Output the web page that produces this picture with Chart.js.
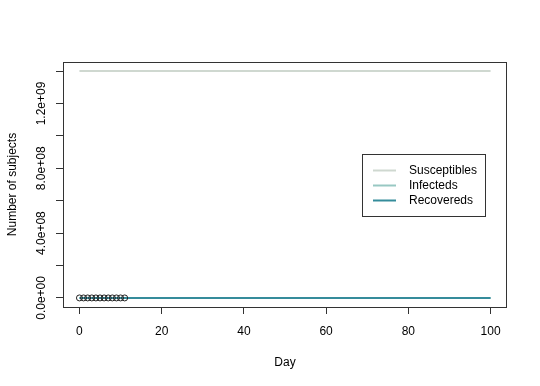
<!DOCTYPE html>
<html><head><meta charset="utf-8">
<script src="https://cdn.jsdelivr.net/npm/chart.js@4.4.0/dist/chart.umd.min.js"></script>
<style>html,body{margin:0;padding:0;background:#fff;}</style>
</head><body>
<canvas id="c" width="540" height="386"></canvas>
<script>
// ---- data ----
const days = [0, 10, 20, 30, 40, 50, 60, 70, 80, 90, 100];
const susceptibles = [1.4e9, 1.4e9, 1.4e9, 1.4e9, 1.4e9, 1.4e9, 1.4e9, 1.4e9, 1.4e9, 1.4e9, 1.4e9];
const infecteds = [0, 0, 0, 0, 0, 0, 0, 0, 0, 0, 0];
const recovereds = [0, 0, 0, 0, 0, 0, 0, 0, 0, 0, 0];
const obsDays = [0, 1, 2, 3, 4, 5, 6, 7, 8, 9, 10, 11];
const observed = [0, 0, 0, 0, 0, 0, 0, 0, 0, 0, 0, 0];
const xTickValues = [0, 20, 40, 60, 80, 100];
const xTickLabels = ["0", "20", "40", "60", "80", "100"];
const yTickValues = [0, 2e8, 4e8, 6e8, 8e8, 1e9, 1.2e9, 1.4e9];
const yTickLabels = ["0.0e+00", "", "4.0e+08", "", "8.0e+08", "", "1.2e+09", ""];
const seriesNames = ["Susceptibles", "Infecteds", "Recovereds"];
const seriesColors = ["#cfd8d0", "#98c8c3", "#358c9b"];

const FONT = {family: "'Liberation Sans', Arial, sans-serif", size: 12};
const pts = (xs, ys) => xs.map((x, i) => ({x: x, y: ys[i]}));

const frame = {
  id: 'rframe',
  afterDraw(chart) {
    const ctx = chart.ctx, a = chart.chartArea;
    ctx.save();
    ctx.strokeStyle = '#333';
    ctx.lineWidth = 1;
    ctx.strokeRect(Math.round(a.left) + 0.5, Math.round(a.top) + 0.5,
                   Math.round(a.right - a.left) - 1, Math.round(a.bottom - a.top));
    // legend
    const lx = 362, ly = 154, lw = 123, lh = 62;
    ctx.fillStyle = '#fff';
    ctx.fillRect(lx, ly, lw, lh);
    ctx.strokeRect(lx + 0.5, ly + 0.5, lw, lh);
    ctx.font = "12px 'Liberation Sans', Arial, sans-serif";
    ctx.textBaseline = 'middle';
    ctx.textAlign = 'left';
    seriesNames.forEach((name, i) => {
      const y = 171 + i * 15;
      ctx.strokeStyle = seriesColors[i];
      ctx.lineWidth = 2;
      ctx.beginPath();
      ctx.moveTo(373, y - 0.5);
      ctx.lineTo(396, y - 0.5);
      ctx.stroke();
      ctx.fillStyle = '#000';
      ctx.fillText(name, 409, y);
    });
    ctx.restore();
  }
};

new Chart(document.getElementById('c'), {
  type: 'scatter',
  data: {
    datasets: [
      {label: 'observed', data: pts(obsDays, observed), showLine: false,
       pointRadius: 3, pointBorderWidth: 1, pointBorderColor: '#222',
       pointBackgroundColor: 'rgba(0,0,0,0)', borderColor: '#222', backgroundColor: 'rgba(0,0,0,0)'},
      {label: seriesNames[2], data: pts(days, recovereds), showLine: true, pointRadius: 0,
       borderColor: seriesColors[2], borderWidth: 2, backgroundColor: seriesColors[2]},
      {label: seriesNames[1], data: pts(days, infecteds), showLine: true, pointRadius: 0,
       borderColor: seriesColors[1], borderWidth: 2, backgroundColor: seriesColors[1]},
      {label: seriesNames[0], data: pts(days, susceptibles), showLine: true, pointRadius: 0,
       borderColor: seriesColors[0], borderWidth: 2, backgroundColor: seriesColors[0]}
    ]
  },
  options: {
    responsive: false,
    animation: false,
    devicePixelRatio: 1,
    layout: {padding: {left: 0, right: 33, top: 62, bottom: 0}},
    plugins: {legend: {display: false}, tooltip: {enabled: false}},
    scales: {
      x: {
        type: 'linear', min: -4, max: 104,
        afterBuildTicks: s => { s.ticks = xTickValues.map(v => ({value: v})); },
        afterFit: s => { s.height = 79; },
        ticks: {font: FONT, color: '#000', padding: 10, maxRotation: 0, autoSkip: false,
                callback: v => xTickLabels[xTickValues.indexOf(v)]},
        grid: {drawOnChartArea: false, drawTicks: true, tickLength: 7, color: '#333', tickColor: '#333'},
        border: {display: false},
        title: {display: true, text: 'Day', font: FONT, color: '#000', padding: {top: 0, bottom: 16}}
      },
      y: {
        type: 'linear', min: -0.056e9, max: 1.456e9,
        afterBuildTicks: s => { s.ticks = yTickValues.map(v => ({value: v})); },
        afterFit: s => { s.width = 63; },
        ticks: {font: FONT, color: '#000', padding: -8, minRotation: 90, maxRotation: 90,
                crossAlign: 'center', autoSkip: false,
                callback: v => yTickLabels[yTickValues.indexOf(v)]},
        grid: {drawOnChartArea: false, drawTicks: true, tickLength: 7, color: '#333', tickColor: '#333'},
        border: {display: false},
        title: {display: true, text: 'Number of subjects', font: FONT, color: '#000', padding: {top: 5, bottom: 0}}
      }
    }
  },
  plugins: [frame]
});
</script>
</body></html>
